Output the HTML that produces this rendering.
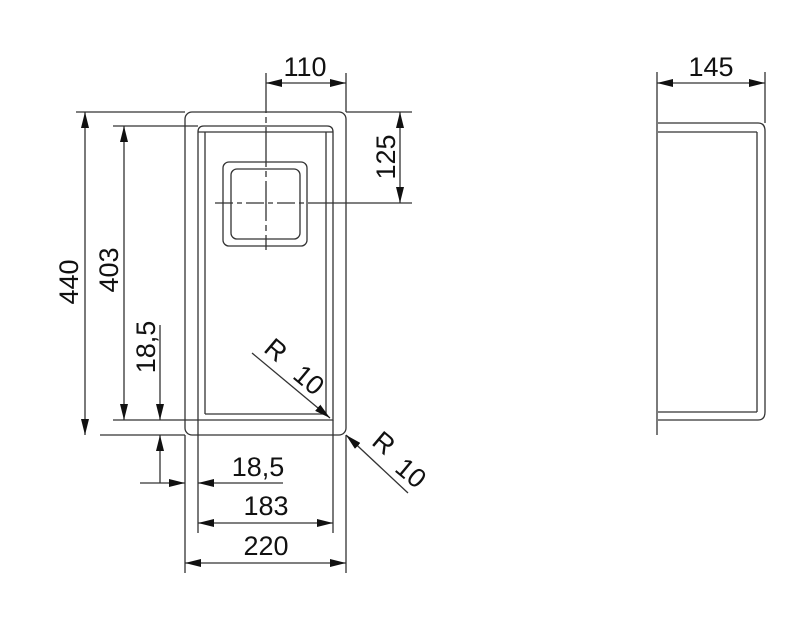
<!DOCTYPE html>
<html><head><style>html,body{margin:0;padding:0;background:#fff}svg{display:block}</style></head><body>
<svg width="800" height="630" viewBox="0 0 800 630" xmlns="http://www.w3.org/2000/svg">
<defs>
<marker id="a" viewBox="0 0 16 8" refX="16" refY="4" markerWidth="16" markerHeight="8" markerUnits="userSpaceOnUse" orient="auto-start-reverse"><path d="M0,0 L16,4 L0,8 Z" fill="#111"/></marker>
</defs>
<g fill="none" stroke="#333" stroke-width="1.3">
<rect x="185" y="112" width="161" height="323" rx="7"/>
<path d="M198,420 V132 Q198,126 204,126 H327 Q333,126 333,132 V420 Z"/>
<path d="M205,414 V132 M326,414 V132 M198,132 H333 M205,414 H326"/>
<rect x="223" y="162" width="84" height="84" rx="6"/>
<rect x="231" y="169" width="69" height="70" rx="6"/>
<path d="M266,73 V250" stroke-dasharray="40,4,6,4"/>
<path d="M215,203 H320" stroke-dasharray="18,4,5,4"/>
<path d="M320,203 H412"/>
<path d="M346,73 V112 M76,112 H185 M346,112 H412 M113,126 H198 M113,420 H198 M100,435 H185 M150,420 H160 M185,435 V573 M198,420 V533 M333,420 V533 M346,435 V573"/>
<path d="M266,83 H346" marker-start="url(#a)" marker-end="url(#a)"/>
<path d="M400,112 V203" marker-start="url(#a)" marker-end="url(#a)"/>
<path d="M85,112 V435" marker-start="url(#a)" marker-end="url(#a)"/>
<path d="M124,126 V420" marker-start="url(#a)" marker-end="url(#a)"/>
<path d="M160,325 V420" marker-end="url(#a)"/>
<path d="M160,483 V435" marker-end="url(#a)"/>
<path d="M140,483 H185" marker-end="url(#a)"/>
<path d="M283,483 H198" marker-end="url(#a)"/>
<path d="M198,523 H333" marker-start="url(#a)" marker-end="url(#a)"/>
<path d="M185,563 H346" marker-start="url(#a)" marker-end="url(#a)"/>
<path d="M252,353 L330,418" marker-end="url(#a)"/>
<path d="M408,493 L346,435" marker-end="url(#a)"/>
<path d="M657,110 V435"/>
<path d="M658,123 H758 Q765,123 765,131 V412 Q765,420 758,420 H658"/>
<path d="M658,132 H757 M658,412 H757 M757,132 V412"/>
<path d="M657,72 V110 M765,72 V123"/>
<path d="M657,83 H765" marker-start="url(#a)" marker-end="url(#a)"/>
</g>
<g font-family="Liberation Sans, sans-serif" font-size="27" fill="#111" text-anchor="middle">
<text x="305" y="76">110</text>
<text x="711" y="76">145</text>
<text x="258" y="476">18,5</text>
<text x="266" y="515">183</text>
<text x="266" y="555">220</text>
<text transform="translate(395,157) rotate(-90)">125</text>
<text transform="translate(78,282) rotate(-90)">440</text>
<text transform="translate(118,270) rotate(-90)">403</text>
<text transform="translate(155,347) rotate(-90)">18,5</text>
<text transform="translate(270,357) rotate(40)">R</text>
<text transform="translate(303,387) rotate(40)">10</text>
<text transform="translate(378,450) rotate(40)">R</text>
<text transform="translate(405,480) rotate(40)">10</text>
</g>
</svg>
</body></html>
